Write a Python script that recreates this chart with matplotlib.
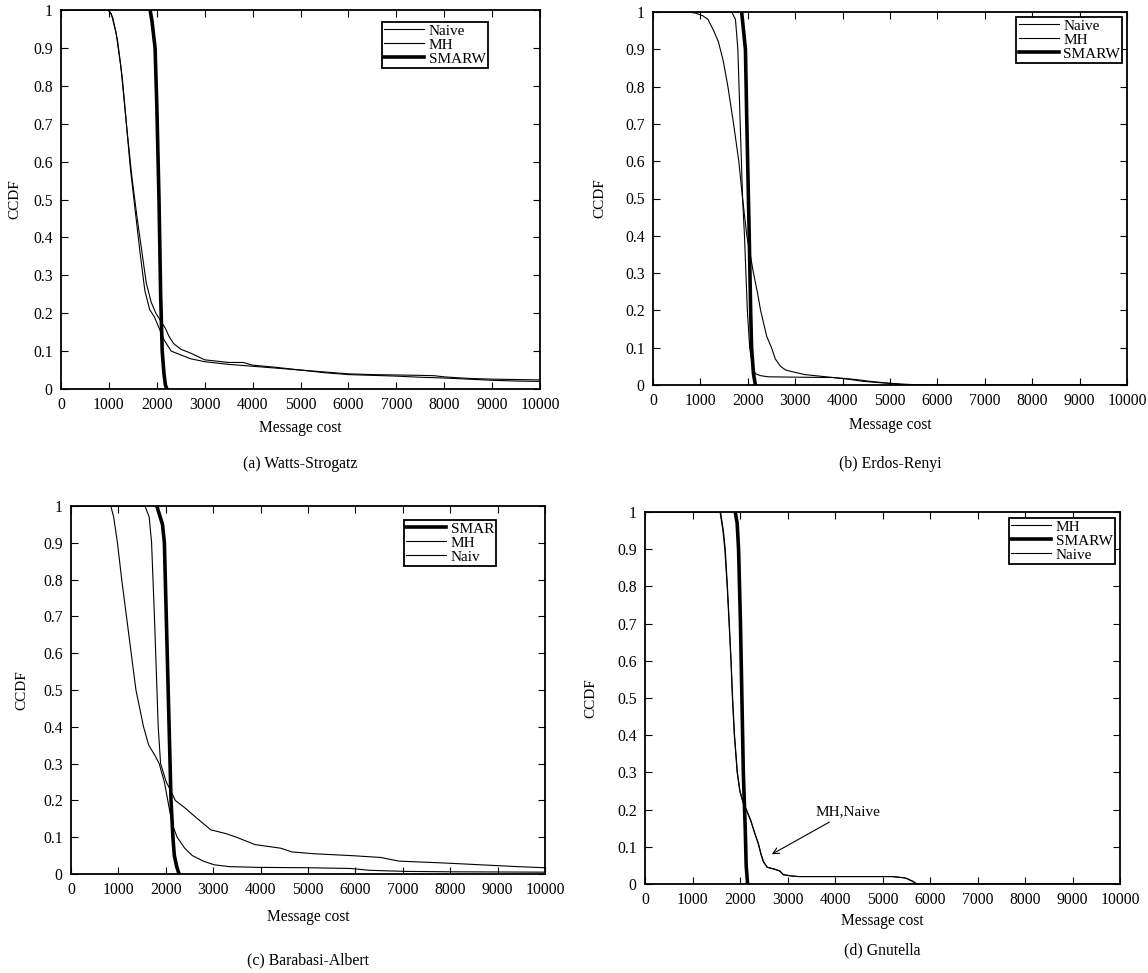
import matplotlib.pyplot as plt
from matplotlib.ticker import FixedLocator, FixedFormatter

plt.rcParams['font.family'] = ['Liberation Serif', 'DejaVu Serif']

# (a) Watts-Strogatz
a_naive_x = [0, 980, 1050, 1150, 1250, 1350, 1450, 1550, 1650, 1750, 1850, 1950, 2050, 2150, 2200,
             2300, 2500, 2700, 3000, 3500, 4000, 4500, 5000, 5500, 6000, 6500, 7000, 7500, 8000,
             8500, 9000, 9500, 10000]
a_naive_y = [1, 1, 0.99, 0.94, 0.85, 0.72, 0.58, 0.47, 0.36, 0.26, 0.21, 0.19, 0.16, 0.13, 0.12,
             0.10, 0.09, 0.08, 0.072, 0.065, 0.06, 0.055, 0.05, 0.043, 0.038, 0.036, 0.034, 0.031,
             0.029, 0.026, 0.023, 0.021, 0.02]
a_mh_x = [0, 1000, 1080, 1180, 1280, 1380, 1480, 1580, 1680, 1780, 1880, 1980, 2080, 2180, 2250,
          2350, 2500, 2700, 3000, 3500, 3800, 4000, 4500, 5000, 5500, 6000, 6500, 7000, 7500, 7800,
          8000, 8500, 9000, 9500, 10000]
a_mh_y = [1, 1, 0.98, 0.92, 0.82, 0.68, 0.56, 0.46, 0.37, 0.28, 0.23, 0.2, 0.18, 0.16, 0.14,
          0.12, 0.105, 0.095, 0.077, 0.07, 0.07, 0.063, 0.057, 0.05, 0.045, 0.04, 0.038, 0.037,
          0.036, 0.035, 0.032, 0.028, 0.026, 0.025, 0.024]
a_smarw_x = [1860, 1900, 1964, 2000, 2046, 2080, 2113, 2150, 2180, 2210]
a_smarw_y = [1, 0.97, 0.9, 0.75, 0.5, 0.25, 0.1, 0.04, 0.01, 0]

# (b) Erdos-Renyi
b_naive_x = [0, 740, 900, 1050, 1160, 1280, 1380, 1480, 1580, 1700, 1810, 1890, 1980, 2050, 2120,
             2200, 2270, 2400, 2500, 2580, 2690, 2800, 2960, 3200, 3420, 3800, 4100, 4420, 4700,
             4950, 5330, 5700, 10000]
b_naive_y = [1, 1, 0.997, 0.99, 0.98, 0.95, 0.92, 0.87, 0.8, 0.7, 0.6, 0.5, 0.4, 0.35, 0.3,
             0.25, 0.2, 0.13, 0.1, 0.07, 0.05, 0.04, 0.035, 0.028, 0.025, 0.02, 0.016, 0.01, 0.007,
             0.005, 0.002, 0, 0]
b_mh_x = [0, 1660, 1740, 1790, 1840, 1890, 1930, 1990, 2040, 2100, 2160, 2270, 2430, 3000, 3800,
          4260, 4570, 4950, 5330, 10000]
b_mh_y = [1, 1, 0.98, 0.9, 0.7, 0.5, 0.4, 0.2, 0.1, 0.05, 0.03, 0.025, 0.022, 0.021, 0.02,
          0.015, 0.01, 0.005, 0, 0]
b_smarw_x = [1870, 1950, 1980, 2030, 2060, 2080, 2120, 2160]
b_smarw_y = [1, 0.9, 0.7, 0.4, 0.2, 0.1, 0.03, 0]

# (c) Barabasi-Albert
c_naive_x = [0, 840, 900, 980, 1070, 1170, 1270, 1370, 1450, 1530, 1640, 1780, 1860, 1970, 2070,
             2150, 2240, 2400, 2560, 2790, 3020, 3340, 3960, 5000, 5900, 6300, 7080, 8000, 10000]
c_naive_y = [1, 1, 0.97, 0.9, 0.8, 0.7, 0.6, 0.5, 0.45, 0.4, 0.35, 0.32, 0.3, 0.25, 0.18,
             0.13, 0.1, 0.07, 0.05, 0.035, 0.025, 0.02, 0.018, 0.017, 0.015, 0.01, 0.007, 0.006,
             0.005]
c_mh_x = [0, 1560, 1650, 1700, 1760, 1800, 1840, 1890, 2010, 2090, 2200, 2400, 2670, 2950, 3260,
          3490, 3880, 4430, 4660, 5130, 5910, 6530, 6920, 7860, 8640, 9420, 10000]
c_mh_y = [1, 1, 0.97, 0.9, 0.7, 0.55, 0.4, 0.3, 0.25, 0.23, 0.2, 0.18, 0.15, 0.12, 0.11,
          0.1, 0.08, 0.07, 0.06, 0.055, 0.05, 0.045, 0.035, 0.03, 0.025, 0.02, 0.017]
c_smarw_x = [1810, 1930, 1970, 2010, 2050, 2090, 2110, 2150, 2180, 2230, 2280]
c_smarw_y = [1, 0.95, 0.9, 0.7, 0.5, 0.3, 0.2, 0.1, 0.05, 0.02, 0]

# (d) Gnutella
d_mh_x = [0, 1580, 1640, 1680, 1730, 1770, 1810, 1840, 1880, 1940, 1995, 2060, 2130, 2225, 2325,
          2380, 2440, 2490, 2570, 2720, 2835, 2910, 3060, 3220, 4000, 5200, 5430, 5500, 5620,
          5690, 5730, 10000]
d_mh_y = [1, 1, 0.95, 0.9, 0.8, 0.7, 0.6, 0.5, 0.4, 0.3, 0.25, 0.22, 0.2, 0.17, 0.13,
          0.11, 0.08, 0.06, 0.045, 0.04, 0.035, 0.025, 0.022, 0.02, 0.02, 0.02, 0.017, 0.015,
          0.008, 0.002, 0, 0]
d_naive_x = [0, 1590, 1650, 1690, 1735, 1775, 1812, 1845, 1885, 1945, 2000, 2065, 2135, 2230,
             2330, 2385, 2445, 2495, 2575, 2725, 2840, 2915, 3065, 3230, 4000, 5210, 5440, 5510,
             5630, 5700, 5740, 10000]
d_naive_y = [1, 1, 0.95, 0.9, 0.8, 0.7, 0.6, 0.5, 0.4, 0.3, 0.25, 0.22, 0.2, 0.17, 0.13,
             0.11, 0.08, 0.06, 0.045, 0.04, 0.035, 0.025, 0.022, 0.02, 0.02, 0.02, 0.017, 0.015,
             0.008, 0.002, 0, 0]
d_smarw_x = [1900, 1940, 1970, 2010, 2040, 2070, 2110, 2130, 2160]
d_smarw_y = [1, 0.97, 0.9, 0.7, 0.5, 0.3, 0.15, 0.05, 0]

x_ticks = [0, 1000, 2000, 3000, 4000, 5000, 6000, 7000, 8000, 9000, 10000]
y_ticks = [0, 0.1, 0.2, 0.3, 0.4, 0.5, 0.6, 0.7, 0.8, 0.9, 1]
y_tick_labels = ['0', '0.1', '0.2', '0.3', '0.4', '0.5', '0.6', '0.7', '0.8', '0.9', '1']

W, H = 1148, 973
fig = plt.figure(figsize=(W / 100, H / 100), dpi=100)


def px_axes(left, top, right, bottom):
    return fig.add_axes([left / W, 1 - bottom / H, (right - left) / W, (bottom - top) / H])


def style(ax):
    ax.set_xlim(0, 10000)
    ax.set_ylim(0, 1)
    ax.xaxis.set_major_locator(FixedLocator(x_ticks))
    ax.yaxis.set_major_locator(FixedLocator(y_ticks))
    ax.yaxis.set_major_formatter(FixedFormatter(y_tick_labels))
    ax.tick_params(direction='in', top=True, right=True, length=5, width=0.8,
                   labelsize=11.3, pad=6)
    for s in ax.spines.values():
        s.set_linewidth(1.3)


thin = dict(color='black', lw=0.8)
thick = dict(color='black', lw=2.6)

panels = [
    # axes box in pixels, caption, xlabel y, caption y, ylabel x, legend anchor
    ((61, 10, 540, 389), '(a) Watts-Strogatz', 428, 464, 15, (0.891, 0.969)),
    ((653, 12, 1127, 385), '(b) Erdos-Renyi', 425, 464, 600, (0.99, 0.987)),
    ((71, 506, 545, 874), '(c) Barabasi-Albert', 917, 960, 22, (0.897, 0.963)),
    ((645, 512, 1120, 884), '(d) Gnutella', 921, 950, 591, (0.989, 0.985)),
]

axes = []
for box, caption, xl_y, cap_y, yl_x, anchor in panels:
    ax = px_axes(*box)
    style(ax)
    cx = (box[0] + box[2]) / 2
    cy = (box[1] + box[3]) / 2
    fig.text(cx / W, 1 - xl_y / H, 'Message cost', ha='center', va='center', fontsize=11.2)
    fig.text(cx / W, 1 - cap_y / H, caption, ha='center', va='center', fontsize=11.3)
    fig.text(yl_x / W, 1 - cy / H, 'CCDF', ha='center', va='center', rotation=90, fontsize=11)
    axes.append((ax, anchor))

leg_kw = dict(loc='upper right', fontsize=11, frameon=True, fancybox=False, framealpha=1,
              edgecolor='black', borderpad=0.15, labelspacing=0.02, handlelength=2.6,
              handletextpad=0.3, borderaxespad=0)

# (a)
ax, anchor = axes[0]
l1, = ax.plot(a_naive_x, a_naive_y, **thin)
l2, = ax.plot(a_mh_x, a_mh_y, **thin)
l3, = ax.plot(a_smarw_x, a_smarw_y, **thick)
leg = ax.legend([l1, l2, l3], ['Naive', 'MH', 'SMARW'], bbox_to_anchor=anchor, **leg_kw)
leg.get_frame().set_linewidth(1.3)

# (b)
ax, anchor = axes[1]
l1, = ax.plot(b_naive_x, b_naive_y, **thin)
l2, = ax.plot(b_mh_x, b_mh_y, **thin)
l3, = ax.plot(b_smarw_x, b_smarw_y, **thick)
leg = ax.legend([l1, l2, l3], ['Naive', 'MH', 'SMARW'], bbox_to_anchor=anchor, **leg_kw)
leg.get_frame().set_linewidth(1.3)

# (c)
ax, anchor = axes[2]
l1, = ax.plot(c_naive_x, c_naive_y, **thin)
l2, = ax.plot(c_mh_x, c_mh_y, **thin)
l3, = ax.plot(c_smarw_x, c_smarw_y, **thick)
leg = ax.legend([l3, l2, l1], ['SMAR', 'MH', 'Naiv'], bbox_to_anchor=anchor, **leg_kw)
leg.get_frame().set_linewidth(1.3)

# (d)
ax, anchor = axes[3]
l1, = ax.plot(d_mh_x, d_mh_y, **thin)
l2, = ax.plot(d_naive_x, d_naive_y, **thin)
l3, = ax.plot(d_smarw_x, d_smarw_y, **thick)
leg = ax.legend([l1, l3, l2], ['MH', 'SMARW', 'Naive'], bbox_to_anchor=anchor, **leg_kw)
leg.get_frame().set_linewidth(1.3)
ax.annotate('MH,Naive', xy=(2670, 0.08), xytext=(3600, 0.195), fontsize=11,
            ha='left', va='center',
            arrowprops=dict(arrowstyle='->', color='black', lw=0.8, shrinkA=2, shrinkB=0))

fig.savefig('out.png', dpi=100)
